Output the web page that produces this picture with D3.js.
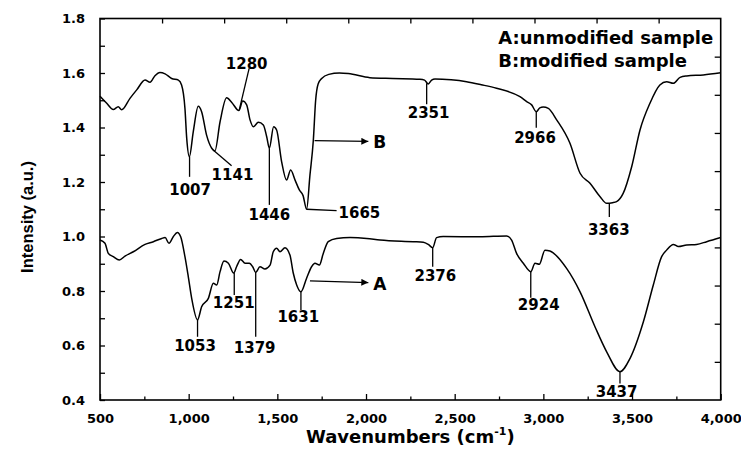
<!DOCTYPE html>
<html>
<head>
<meta charset="utf-8">
<script src="https://cdn.jsdelivr.net/npm/d3@7"></script>
<style>
  body { margin: 0; background: #fff; }
  svg { display: block; }
  .tick text { font-family: "DejaVu Sans", sans-serif; font-weight: bold; font-size: 13px; fill: #000; }
  .lbl { font-family: "DejaVu Sans", sans-serif; font-weight: bold; font-size: 15px; fill: #000; }
</style>
</head>
<body>
<div id="chart"></div>
<script>
// FTIR spectra, values
// [wavenumber (cm-1), intensity (a.u.)]
const sampleB = [
  [500,1.515],[538,1.489],[575,1.466],[603,1.476],[622,1.465],[669,1.507],[707,1.538],
  [754,1.574],[782,1.566],[810,1.590],[838,1.602],[867,1.597],[904,1.580],[942,1.574],
  [960,1.556],[979,1.470],[989,1.360],[1004,1.293],[1026,1.385],[1054,1.478],[1073,1.458],
  [1101,1.372],[1130,1.324],[1148,1.314],[1177,1.421],[1214,1.509],[1243,1.492],[1283,1.462],
  [1305,1.497],[1327,1.483],[1346,1.428],[1365,1.403],[1393,1.419],[1421,1.409],[1440,1.366],
  [1455,1.324],[1479,1.403],[1496,1.391],[1524,1.275],[1552,1.207],[1575,1.244],[1600,1.207],
  [1624,1.171],[1645,1.150],[1665,1.100],[1684,1.226],[1703,1.354],[1716,1.500],[1730,1.560],
  [1750,1.580],[1790,1.595],[1850,1.600],[1900,1.598],[2022,1.583],[2150,1.580],[2304,1.577],
  [2330,1.574],[2351,1.560],[2370,1.574],[2389,1.578],[2480,1.575],[2567,1.568],[2650,1.557],
  [2736,1.544],[2868,1.513],[2906,1.495],[2934,1.483],[2960,1.458],[2980,1.472],[2999,1.475],
  [3028,1.470],[3075,1.428],[3150,1.342],[3207,1.232],[3263,1.195],[3320,1.146],[3357,1.122],
  [3390,1.124],[3413,1.128],[3450,1.158],[3498,1.256],[3545,1.391],[3601,1.489],[3657,1.556],
  [3695,1.568],[3733,1.562],[3771,1.584],[3808,1.589],[3902,1.593],[4000,1.601]
];
const sampleA = [
  [500,0.987],[528,0.975],[547,0.938],[575,0.926],[609,0.914],[641,0.928],[688,0.944],
  [754,0.971],[801,0.981],[848,0.993],[867,0.996],[889,0.975],[913,0.999],[936,1.015],
  [955,0.999],[979,0.926],[998,0.852],[1017,0.773],[1050,0.694],[1073,0.742],[1111,0.773],
  [1139,0.828],[1158,0.822],[1177,0.871],[1199,0.910],[1224,0.902],[1254,0.866],[1270,0.889],
  [1293,0.916],[1318,0.902],[1342,0.902],[1361,0.889],[1378,0.868],[1402,0.889],[1430,0.881],
  [1459,0.895],[1477,0.944],[1496,0.957],[1515,0.944],[1543,0.959],[1571,0.932],[1590,0.865],
  [1609,0.822],[1633,0.797],[1665,0.847],[1693,0.889],[1712,0.902],[1737,0.895],[1759,0.938],
  [1787,0.981],[1834,0.993],[1910,0.996],[2004,0.993],[2079,0.987],[2267,0.981],[2323,0.979],
  [2351,0.971],[2376,0.959],[2398,0.996],[2435,1.000],[2643,0.999],[2793,1.002],[2821,0.987],
  [2849,0.938],[2887,0.902],[2929,0.871],[2953,0.902],[2977,0.898],[3009,0.950],[3037,0.947],
  [3131,0.883],[3207,0.797],[3291,0.669],[3357,0.577],[3432,0.504],[3489,0.553],[3564,0.687],
  [3620,0.822],[3667,0.926],[3695,0.950],[3733,0.971],[3761,0.963],[3808,0.969],[3864,0.971],
  [3921,0.981],[4000,0.996]
];

// peak labels: text, leader line [x1,y1,x2,y2], label anchor [x,y], text-anchor
const peaksB = [
  ["1007", [1005,1.293,1005,1.219], [1008,1.152], "middle"],
  ["1141", [1138,1.317,1242,1.260], [1247,1.207], "middle"],
  ["1280", [1285,1.464,1341,1.617], [1327,1.615], "middle"],
  ["1446", [1455,1.324,1455,1.116], [1455,1.061], "middle"],
  ["1665", [1665,1.100,1834,1.095], [1845,1.068], "start"],
  ["2351", [2342,1.562,2342,1.485], [2353,1.435], "middle"],
  ["2966", [2960,1.458,2960,1.399], [2953,1.342], "middle"],
  ["3363", [3372,1.122,3372,1.072], [3369,1.006], "middle"]
];
const peaksA = [
  ["1053", [1050,0.694,1050,0.632], [1036,0.581], "middle"],
  ["1251", [1257,0.866,1257,0.785], [1254,0.737], "middle"],
  ["1379", [1378,0.868,1378,0.632], [1372,0.571], "middle"],
  ["1631", [1633,0.797,1633,0.730], [1618,0.687], "middle"],
  ["2376", [2376,0.959,2376,0.889], [2391,0.837], "middle"],
  ["2924", [2929,0.871,2929,0.775], [2974,0.730], "middle"],
  ["3437", [3432,0.504,3432,0.461], [3413,0.412], "middle"]
];
// curve markers: arrow [x1,y1,x2,y2], letter
const curveArrows = [
  ["B", [1710,1.352,2013,1.349]],
  ["A", [1684,0.837,2013,0.831]]
];
const legendLines = ["A:unmodified sample", "B:modified sample"];

const xTicks = [500,1000,1500,2000,2500,3000,3500,4000];
const xMinor = [750,1250,1750,2250,2750,3250,3750];
const yTicks = [0.4,0.6,0.8,1.0,1.2,1.4,1.6,1.8];
const yMinor = [0.5,0.7,0.9,1.1,1.3,1.5,1.7];

const width = 741, height = 457;
const margin = {top: 18.5, right: 20.3, bottom: 57, left: 100};
const iw = width - margin.left - margin.right;
const ih = height - margin.top - margin.bottom;

const svg = d3.select("#chart").append("svg")
  .attr("width", width).attr("height", height);

svg.append("defs").append("marker")
  .attr("id", "arrow")
  .attr("viewBox", "0 0 10 10")
  .attr("refX", 10).attr("refY", 5)
  .attr("markerWidth", 9).attr("markerHeight", 7)
  .attr("markerUnits", "userSpaceOnUse")
  .attr("orient", "auto")
  .append("path").attr("d", "M0,0L10,5L0,10Z").attr("fill", "#000");

const g = svg.append("g").attr("transform", `translate(${margin.left},${margin.top})`);

const x = d3.scaleLinear().domain([500, 4000]).range([0, iw]);
const y = d3.scaleLinear().domain([0.4, 1.8]).range([ih, 0]);

// axes, ticks pointing inward
function styleAxis(sel) {
  sel.select(".domain").remove();
  sel.selectAll(".tick line").attr("stroke", "#000").attr("stroke-width", 1.3);
}
g.append("g").attr("transform", `translate(0,${ih})`)
  .call(d3.axisBottom(x).tickValues(xTicks).tickFormat(d3.format(",")).tickSize(-6).tickPadding(14))
  .call(styleAxis);
g.append("g").attr("transform", `translate(0,${ih})`)
  .call(d3.axisBottom(x).tickValues(xMinor).tickFormat("").tickSize(-3.5))
  .call(styleAxis);
g.append("g")
  .call(d3.axisLeft(y).tickValues(yTicks).tickFormat(d3.format(".1f")).tickSize(-5).tickPadding(15))
  .call(styleAxis);
g.append("g")
  .call(d3.axisLeft(y).tickValues(yMinor).tickFormat("").tickSize(-5))
  .call(styleAxis);
// top and right axes carry their own ten equal divisions
g.append("g")
  .call(d3.axisTop(x).tickValues(d3.range(1, 10).map(i => 500 + i * 350)).tickFormat("").tickSize(-5))
  .call(styleAxis);
g.append("g").attr("transform", `translate(${iw},0)`)
  .call(d3.axisRight(y).tickValues(d3.range(1, 10).map(i => 0.4 + i * 0.14)).tickFormat("").tickSize(-6))
  .call(styleAxis);

g.append("rect").attr("width", iw).attr("height", ih)
  .attr("fill", "none").attr("stroke", "#000").attr("stroke-width", 1.6);

// spectra
const line = d3.line().x(d => x(d[0])).y(d => y(d[1])).curve(d3.curveMonotoneX);
[sampleB, sampleA].forEach(s => {
  g.append("path").datum(s).attr("d", line)
    .attr("fill", "none").attr("stroke", "#000").attr("stroke-width", 1.5)
    .attr("stroke-linejoin", "round");
});

// peak labels
[...peaksB, ...peaksA].forEach(p => {
  const [t, l, a, anchor] = p;
  g.append("line")
    .attr("x1", x(l[0])).attr("y1", y(l[1])).attr("x2", x(l[2])).attr("y2", y(l[3]))
    .attr("stroke", "#000").attr("stroke-width", 1.3);
  g.append("text").attr("class", "lbl")
    .attr("x", x(a[0])).attr("y", y(a[1])).attr("text-anchor", anchor).text(t);
});

curveArrows.forEach(c => {
  const [t, l] = c;
  g.append("line")
    .attr("x1", x(l[0])).attr("y1", y(l[1])).attr("x2", x(l[2])).attr("y2", y(l[3]))
    .attr("stroke", "#000").attr("stroke-width", 1.3).attr("marker-end", "url(#arrow)");
  g.append("text").attr("class", "lbl").style("font-size", "17px")
    .attr("x", x(l[2]) + 5).attr("y", y(l[3]) + 7).text(t);
});

// legend text
g.append("g").selectAll("text").data(legendLines).join("text")
  .attr("class", "lbl").style("font-size", "18px")
  .attr("x", 398.3).attr("y", (d, i) => 25.5 + i * 22.7)
  .text(d => d);

// axis titles
const xt = svg.append("text")
  .attr("x", margin.left + iw / 2).attr("y", 443)
  .attr("text-anchor", "middle")
  .style("font-family", "DejaVu Sans, sans-serif").style("font-weight", "bold").style("font-size", "18px");
xt.append("tspan").text("Wavenumbers (cm");
xt.append("tspan").attr("dy", -8).style("font-size", "11px").text("-1");
xt.append("tspan").attr("dy", 8).text(")");

svg.append("text")
  .attr("transform", "translate(33,217) rotate(-90)")
  .attr("text-anchor", "middle")
  .style("font-family", "Liberation Sans, Arial, sans-serif").style("font-weight", "bold").style("font-size", "16.5px")
  .text("Intensity (a.u.)");
</script>
</body>
</html>
